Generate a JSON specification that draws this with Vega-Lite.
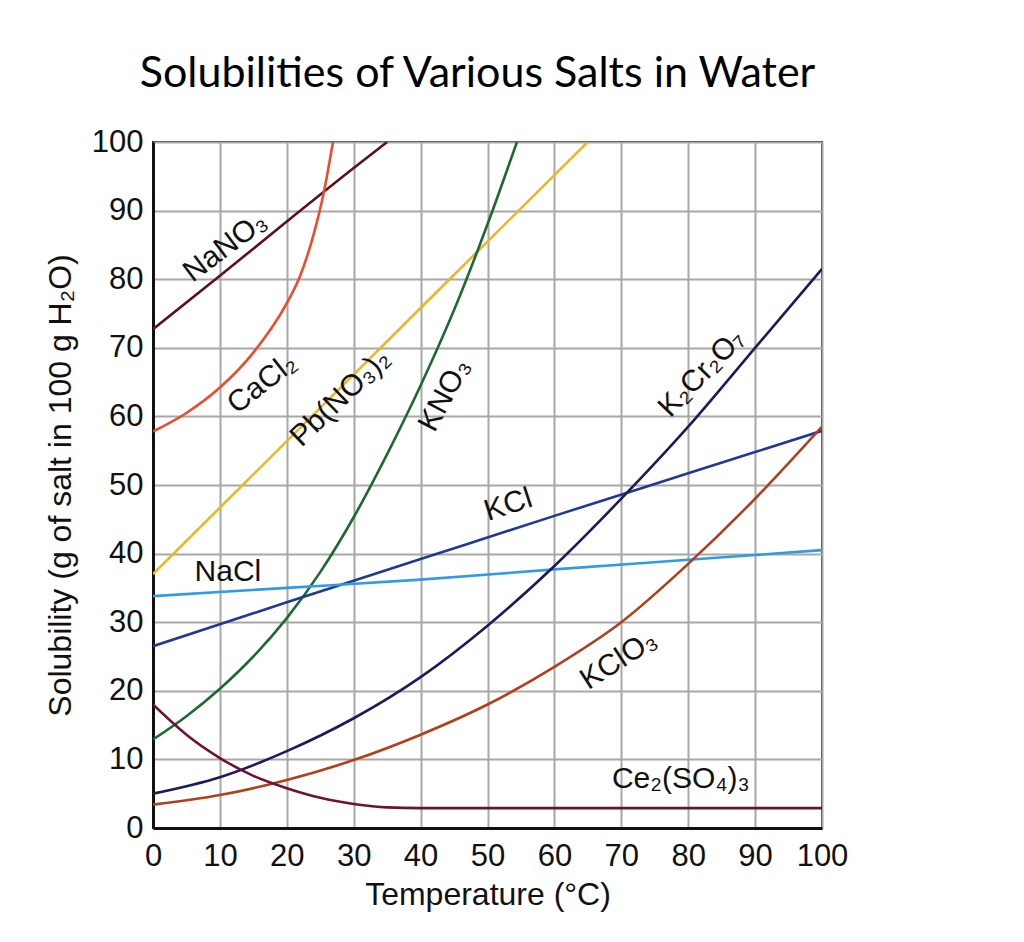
{
  "$schema": "https://vega.github.io/schema/vega-lite/v6.json",
  "width": 669,
  "height": 686,
  "autosize": {"type": "none"},
  "padding": {"left": 153, "top": 142, "right": 202, "bottom": 114},
  "background": "white",
  "title": {
    "text": "Solubilities of Various Salts in Water",
    "font": "Lato",
    "fontSize": 43,
    "fontWeight": "normal",
    "color": "#000000",
    "anchor": "middle",
    "offset": 30,
    "dx": -10
  },
  "datasets": {
    "curves": [
      {"salt": "NaNO3", "t": 0, "s": 72.7}, {"salt": "NaNO3", "t": 10, "s": 80.5}, {"salt": "NaNO3", "t": 20, "s": 88.4}, {"salt": "NaNO3", "t": 30, "s": 96.2}, {"salt": "NaNO3", "t": 35, "s": 100},
      {"salt": "CaCl2", "t": 0, "s": 57.8}, {"salt": "CaCl2", "t": 5, "s": 60.5}, {"salt": "CaCl2", "t": 10, "s": 64.2}, {"salt": "CaCl2", "t": 15, "s": 69.3}, {"salt": "CaCl2", "t": 20, "s": 76.5}, {"salt": "CaCl2", "t": 22, "s": 80.5}, {"salt": "CaCl2", "t": 24, "s": 86.5}, {"salt": "CaCl2", "t": 25.5, "s": 92.5}, {"salt": "CaCl2", "t": 26.9, "s": 100},
      {"salt": "PbNO32", "t": 0, "s": 37}, {"salt": "PbNO32", "t": 20, "s": 56.4}, {"salt": "PbNO32", "t": 40, "s": 75.8}, {"salt": "PbNO32", "t": 65, "s": 100},
      {"salt": "KNO3", "t": 0, "s": 12.9}, {"salt": "KNO3", "t": 5, "s": 16.3}, {"salt": "KNO3", "t": 10, "s": 20.3}, {"salt": "KNO3", "t": 15, "s": 25}, {"salt": "KNO3", "t": 20, "s": 30.6}, {"salt": "KNO3", "t": 25, "s": 37.3}, {"salt": "KNO3", "t": 30, "s": 45.3}, {"salt": "KNO3", "t": 35, "s": 54.5}, {"salt": "KNO3", "t": 40, "s": 64.5}, {"salt": "KNO3", "t": 45, "s": 75.5}, {"salt": "KNO3", "t": 50, "s": 88}, {"salt": "KNO3", "t": 54.4, "s": 100},
      {"salt": "KCl", "t": 0, "s": 26.5}, {"salt": "KCl", "t": 20, "s": 32.9}, {"salt": "KCl", "t": 40, "s": 39.2}, {"salt": "KCl", "t": 60, "s": 45.5}, {"salt": "KCl", "t": 80, "s": 51.7}, {"salt": "KCl", "t": 100, "s": 57.9},
      {"salt": "NaCl", "t": 0, "s": 33.8}, {"salt": "NaCl", "t": 20, "s": 35.0}, {"salt": "NaCl", "t": 40, "s": 36.2}, {"salt": "NaCl", "t": 60, "s": 37.7}, {"salt": "NaCl", "t": 80, "s": 39.1}, {"salt": "NaCl", "t": 100, "s": 40.5},
      {"salt": "K2Cr2O7", "t": 0, "s": 5}, {"salt": "K2Cr2O7", "t": 10, "s": 7.4}, {"salt": "K2Cr2O7", "t": 20, "s": 11.2}, {"salt": "K2Cr2O7", "t": 30, "s": 16}, {"salt": "K2Cr2O7", "t": 40, "s": 22}, {"salt": "K2Cr2O7", "t": 50, "s": 29.5}, {"salt": "K2Cr2O7", "t": 60, "s": 38.2}, {"salt": "K2Cr2O7", "t": 70, "s": 48}, {"salt": "K2Cr2O7", "t": 80, "s": 58.5}, {"salt": "K2Cr2O7", "t": 90, "s": 70}, {"salt": "K2Cr2O7", "t": 100, "s": 81.5},
      {"salt": "KClO3", "t": 0, "s": 3.4}, {"salt": "KClO3", "t": 10, "s": 4.8}, {"salt": "KClO3", "t": 20, "s": 7}, {"salt": "KClO3", "t": 30, "s": 9.9}, {"salt": "KClO3", "t": 40, "s": 13.6}, {"salt": "KClO3", "t": 50, "s": 18}, {"salt": "KClO3", "t": 60, "s": 23.5}, {"salt": "KClO3", "t": 70, "s": 30}, {"salt": "KClO3", "t": 80, "s": 38.5}, {"salt": "KClO3", "t": 90, "s": 48}, {"salt": "KClO3", "t": 100, "s": 58.5},
      {"salt": "Ce2SO43", "t": 0, "s": 18}, {"salt": "Ce2SO43", "t": 5, "s": 13.6}, {"salt": "Ce2SO43", "t": 10, "s": 10.2}, {"salt": "Ce2SO43", "t": 15, "s": 7.6}, {"salt": "Ce2SO43", "t": 20, "s": 5.8}, {"salt": "Ce2SO43", "t": 25, "s": 4.4}, {"salt": "Ce2SO43", "t": 30, "s": 3.5}, {"salt": "Ce2SO43", "t": 35, "s": 3}, {"salt": "Ce2SO43", "t": 40, "s": 2.9}, {"salt": "Ce2SO43", "t": 100, "s": 2.9}
    ]
  },
  "encoding": {
    "x": {
      "field": "t", "type": "quantitative",
      "scale": {"domain": [0, 100], "nice": false, "zero": false},
      "axis": {"values": [0, 10, 20, 30, 40, 50, 60, 70, 80, 90, 100], "title": "Temperature (°C)", "titlePadding": 8, "labelPadding": 13}
    },
    "y": {
      "field": "s", "type": "quantitative",
      "scale": {"domain": [0, 100], "nice": false, "zero": false},
      "axis": {"values": [0, 10, 20, 30, 40, 50, 60, 70, 80, 90, 100], "title": "Solubility (g of salt in 100 g H₂O)", "titlePadding": 14, "labelPadding": 10}
    }
  },
  "layer": [
    {
      "data": {"name": "curves"},
      "mark": {"type": "line", "strokeWidth": 2.6, "clip": true, "interpolate": "monotone"},
      "encoding": {
        "color": {
          "field": "salt", "type": "nominal", "legend": null,
          "scale": {
            "domain": ["NaNO3", "CaCl2", "PbNO32", "KNO3", "KCl", "NaCl", "K2Cr2O7", "KClO3", "Ce2SO43"],
            "range": ["#5e0f1e", "#ee4a2c", "#e9b72a", "#1d6a31", "#1f3a93", "#2f9be3", "#1f1a5a", "#b23f1b", "#6b1236"]
          }
        },
        "order": {"field": "t", "type": "quantitative"}
      }
    },
    {
      "data": {"values": [{"label": "NaNO₃", "t": 10.8, "s": 84.7}]},
      "mark": {"type": "text", "angle": -37, "font": "Liberation Sans", "fontSize": 30, "color": "#111111"},
      "encoding": {"text": {"field": "label"}}
    },
    {
      "data": {"values": [{"label": "CaCl₂", "t": 16.3, "s": 64.8}]},
      "mark": {"type": "text", "angle": -38, "font": "Liberation Sans", "fontSize": 30, "color": "#111111"},
      "encoding": {"text": {"field": "label"}}
    },
    {
      "data": {"values": [{"label": "Pb(NO₃)₂", "t": 28, "s": 62.7}]},
      "mark": {"type": "text", "angle": -44, "font": "Liberation Sans", "fontSize": 30, "color": "#111111"},
      "encoding": {"text": {"field": "label"}}
    },
    {
      "data": {"values": [{"label": "KNO₃", "t": 43.6, "s": 63.1}]},
      "mark": {"type": "text", "angle": -62, "font": "Liberation Sans", "fontSize": 30, "color": "#111111"},
      "encoding": {"text": {"field": "label"}}
    },
    {
      "data": {"values": [{"label": "KCl", "t": 53.1, "s": 47.1}]},
      "mark": {"type": "text", "angle": -18, "font": "Liberation Sans", "fontSize": 30, "color": "#111111"},
      "encoding": {"text": {"field": "label"}}
    },
    {
      "data": {"values": [{"label": "NaCl", "t": 11.2, "s": 37.3}]},
      "mark": {"type": "text", "angle": 0, "font": "Liberation Sans", "fontSize": 30, "color": "#111111"},
      "encoding": {"text": {"field": "label"}}
    },
    {
      "data": {"values": [{"label": "K₂Cr₂O₇", "t": 82, "s": 66.3}]},
      "mark": {"type": "text", "angle": -46, "font": "Liberation Sans", "fontSize": 30, "color": "#111111"},
      "encoding": {"text": {"field": "label"}}
    },
    {
      "data": {"values": [{"label": "KClO₃", "t": 69.6, "s": 24.5}]},
      "mark": {"type": "text", "angle": -33, "font": "Liberation Sans", "fontSize": 30, "color": "#111111"},
      "encoding": {"text": {"field": "label"}}
    },
    {
      "data": {"values": [{"label": "Ce₂(SO₄)₃", "t": 78.9, "s": 7.2}]},
      "mark": {"type": "text", "angle": 0, "font": "Liberation Sans", "fontSize": 30, "color": "#111111"},
      "encoding": {"text": {"field": "label"}}
    }
  ],
  "config": {
    "view": {"stroke": "#222222", "strokeWidth": 2},
    "axis": {
      "grid": true,
      "gridColor": "#a8a8a8",
      "gridWidth": 2,
      "domainColor": "#111111",
      "domainWidth": 3,
      "ticks": false,
      "tickSize": 0,
      "labelFont": "Liberation Sans",
      "labelFontSize": 31,
      "labelColor": "#111111",
      "labelFlush": false,
      "labelOverlap": false,
      "labelBound": false,
      "titleFont": "Liberation Sans",
      "titleFontSize": 32,
      "titleFontWeight": "normal",
      "titleColor": "#111111"
    }
  }
}
